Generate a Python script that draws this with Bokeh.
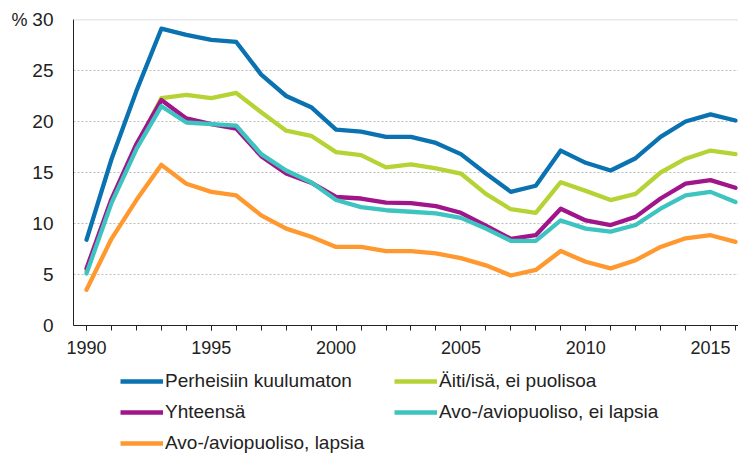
from bokeh.plotting import figure
from bokeh.layouts import column
from bokeh.models import (Legend, LegendItem, SingleIntervalTicker, FixedTicker,
                          Span, Range1d, LinearAxis)
from bokeh.embed import file_html
from bokeh.resources import INLINE

years = list(range(1990, 2017))
perheisiin = [8.4, 16.3, 23.0, 29.1, 28.5, 28.0, 27.8, 24.6, 22.5, 21.4, 19.2, 19.0, 18.5, 18.5,
              17.9, 16.8, 14.9, 13.1, 13.7, 17.15, 15.95, 15.2, 16.4, 18.5, 20.0, 20.7, 20.1]
aiti_isa = [5.35, 12.2, 17.55, 22.3, 22.6, 22.3, 22.8, 20.9, 19.1, 18.6, 17.0, 16.7, 15.5, 15.8,
            15.4, 14.9, 12.9, 11.4, 11.05, 14.05, 13.2, 12.3, 12.9, 15.0, 16.35, 17.15, 16.8]
yhteensa = [5.6, 12.4, 17.8, 22.1, 20.3, 19.75, 19.3, 16.6, 14.9, 14.0, 12.6, 12.45, 12.05, 12.0,
            11.7, 11.05, 9.8, 8.5, 8.85, 11.45, 10.3, 9.85, 10.65, 12.45, 13.9, 14.25, 13.5]
ei_lapsia = [5.1, 12.0, 17.3, 21.5, 19.9, 19.75, 19.6, 16.8, 15.2, 14.05, 12.3, 11.6, 11.3, 11.15,
             11.0, 10.55, 9.5, 8.3, 8.3, 10.3, 9.5, 9.2, 9.85, 11.45, 12.75, 13.1, 12.1]
lapsia = [3.5, 8.5, 12.3, 15.75, 13.9, 13.1, 12.75, 10.8, 9.5, 8.7, 7.7, 7.7, 7.3, 7.3,
          7.07, 6.6, 5.9, 4.9, 5.45, 7.3, 6.25, 5.6, 6.4, 7.7, 8.55, 8.85, 8.2]

names = ["Perheisiin kuulumaton", "Äiti/isä, ei puolisoa", "Yhteensä",
         "Avo-/aviopuoliso, ei lapsia", "Avo-/aviopuoliso, lapsia"]
series = [perheisiin, aiti_isa, yhteensa, ei_lapsia, lapsia]
colors = ["#0a72b0", "#b5d334", "#a0168a", "#3ec4c0", "#ff982e"]
y_ticks = [0, 5, 10, 15, 20, 25, 30]
unit_label = {30: "%"}

FONT = "Liberation Sans"
TXT = "#222222"

p = figure(width=738, height=365, output_backend="svg", toolbar_location=None,
           x_range=Range1d(1989.479, 2016.122), y_range=Range1d(0, 30),
           min_border_left=73, min_border_top=19, min_border_right=0,
           min_border_bottom=40)
p.outline_line_color = None

for s, c in zip(series, colors):
    p.line(years, s, line_color=c, line_width=4.3, line_join="round", line_cap="round")

# x axis
p.xaxis.ticker = SingleIntervalTicker(interval=5, num_minor_ticks=5)
p.xaxis.major_tick_out = 5
p.xaxis.major_tick_in = 0
p.xaxis.minor_tick_out = 5
p.xaxis.minor_tick_in = 0
p.xaxis.major_tick_line_color = TXT
p.xaxis.minor_tick_line_color = TXT
p.xaxis.axis_line_color = TXT
p.xaxis.major_label_standoff = 10
p.xaxis.major_label_text_font = FONT
p.xaxis.major_label_text_font_size = "18px"
p.xaxis.major_label_text_color = TXT

# y axis
p.yaxis.ticker = FixedTicker(ticks=y_ticks)
p.yaxis.major_tick_out = 0
p.yaxis.major_tick_in = 0
p.yaxis.minor_tick_line_color = None
p.yaxis.axis_line_color = TXT
p.yaxis.major_label_standoff = 20
p.yaxis.major_label_text_font = FONT
p.yaxis.major_label_text_font_size = "19px"
p.yaxis.major_label_text_color = TXT

# unit label "%" as an outer axis label at the top tick
unit_axis = LinearAxis(ticker=FixedTicker(ticks=list(unit_label.keys())),
                       major_label_overrides=unit_label,
                       axis_line_color=None, major_tick_line_color=None,
                       minor_tick_line_color=None, major_label_standoff=-4,
                       major_label_text_font=FONT, major_label_text_font_size="18px",
                       major_label_text_color=TXT)
p.add_layout(unit_axis, "left")

p.xgrid.grid_line_color = None
p.ygrid.ticker = FixedTicker(ticks=[5, 10, 15, 20, 25])
p.ygrid.grid_line_color = "#bdbdbd"
p.ygrid.grid_line_dash = "2 2"
p.ygrid.grid_line_width = 1

p.add_layout(Span(location=30, dimension="width", line_color="#d4d4d4", line_width=1.5))

# legend figure
lf = figure(width=738, height=89, output_backend="svg", toolbar_location=None,
            x_axis_type=None, y_axis_type=None, min_border=0)
lf.outline_line_color = None
lf.xgrid.grid_line_color = None
lf.ygrid.grid_line_color = None
lrs = []
for s, c in zip(series, colors):
    r = lf.line(years, s, line_color=c, line_width=4.3, visible=False)
    lrs.append(r)

items = [LegendItem(label=n, renderers=[r]) for n, r in zip(names, lrs)]
order = [0, 2, 4, 1, 3]
legend = Legend(items=[items[i] for i in order], ncols=2, location=(47, 0),
                orientation="vertical",
                glyph_width=43, glyph_height=22, label_height=22, label_width=220,
                label_standoff=2, spacing=9, padding=0, margin=0,
                label_text_font=FONT, label_text_font_size="19px",
                label_text_color=TXT, border_line_color=None,
                background_fill_alpha=0)
lf.add_layout(legend, "center")

layout = column(p, lf, spacing=0)
open("out.html", "w").write(file_html(layout, INLINE))
